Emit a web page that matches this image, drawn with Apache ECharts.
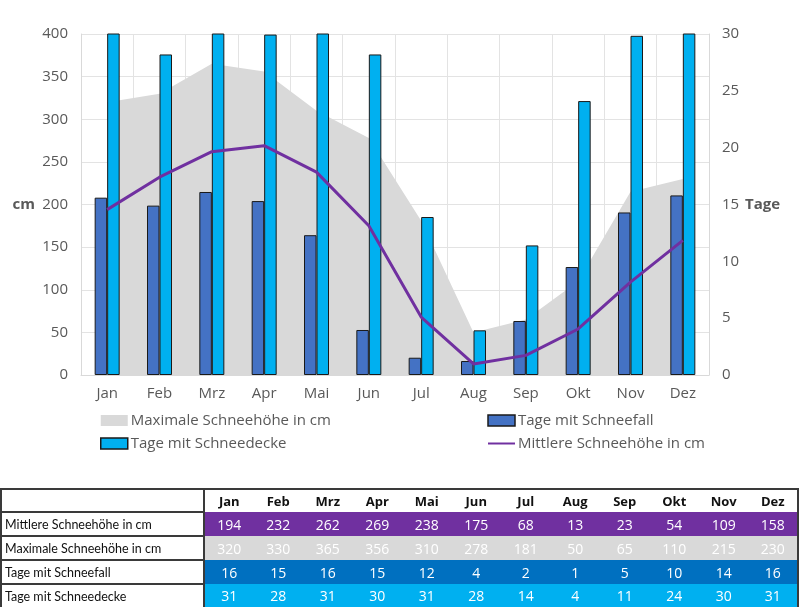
<!DOCTYPE html>
<html><head><meta charset="utf-8">
<script src="https://cdn.jsdelivr.net/npm/echarts@6/dist/echarts.min.js"></script>
<style>
html,body{margin:0;padding:0;background:#fff;}
#chart{position:absolute;left:0;top:0;width:800px;height:607px;}
#tbl{position:absolute;left:0;top:488px;width:799px;border-collapse:collapse;table-layout:fixed;font-family:'Open Sans',sans-serif;border:2px solid #3a3a3a;}
#tbl td{padding:0;height:22px;white-space:nowrap;overflow:hidden;}
#tbl td.lab{border-right:2px solid #3a3a3a;border-bottom:2px solid #3a3a3a;font-family:'Lato',sans-serif;font-size:12.5px;color:#111;padding-left:3px;text-align:left;background:#fff;}
#tbl td.hd{font-weight:bold;font-size:13px;color:#111;text-align:center;background:#fff;}
#tbl td.v{font-size:14px;color:#fff;text-align:center;}
</style>
</head><body>
<div id="chart"></div>
<table id="tbl"></table>
<script>
const months = ['Jan','Feb','Mrz','Apr','Mai','Jun','Jul','Aug','Sep','Okt','Nov','Dez'];
const mittlereSchneehoehe = [194,232,262,269,238,175,68,13,23,54,109,158];
const maximaleSchneehoehe = [320,330,365,356,310,278,181,50,65,110,215,230];
const tageSchneefall = [15.6,14.9,16.1,15.3,12.3,3.96,1.52,1.23,4.75,9.5,14.3,15.8];
const tageSchneedecke = [31,28.2,31,29.95,31,28.2,13.9,3.93,11.4,24.1,29.84,31];
const cmTicks = {min:0,max:400,interval:50};
const tageTicks = {min:0,max:30,interval:5};

const FONT = "'Open Sans', sans-serif";
const TXT = '#595959';
const chart = echarts.init(document.getElementById('chart'), null, {renderer:'canvas'});
const legendCommon = {orient:'vertical',itemGap:8,itemWidth:27,itemHeight:11,padding:0,
  textStyle:{fontSize:15,color:TXT,fontFamily:FONT,padding:[0,0,0,-2]}};
chart.setOption({
  animation:false,
  textStyle:{fontFamily:FONT},
  grid:{left:81,right:91,top:34,bottom:232},
  legend:[
    Object.assign({left:100,top:413,
     data:[{name:'Maximale Schneehöhe in cm',icon:'rect',itemStyle:{color:'#d9d9d9',borderWidth:0}},
           {name:'Tage mit Schneedecke',icon:'rect',itemStyle:{borderWidth:1.5}}]},legendCommon),
    Object.assign({left:487,top:413,
     data:[{name:'Tage mit Schneefall',icon:'rect',itemStyle:{borderWidth:1.5}},
           {name:'Mittlere Schneehöhe in cm',itemStyle:{opacity:0}}]},legendCommon)
  ],
  xAxis:{type:'category',data:months,boundaryGap:true,
    axisLine:{show:true,lineStyle:{color:'#d9d9d9',width:1}},
    axisTick:{show:false},
    axisLabel:{fontSize:15,color:TXT,margin:11,fontFamily:FONT},
    splitLine:{show:true,interval:0,lineStyle:{color:'#e3e3e3',width:1}}},
  yAxis:[
    {type:'value',min:cmTicks.min,max:cmTicks.max,interval:cmTicks.interval,
     name:'cm',nameLocation:'middle',nameRotate:0,nameGap:46,
     nameTextStyle:{fontSize:15,fontWeight:'bold',color:TXT,fontFamily:FONT},
     axisLine:{show:true,lineStyle:{color:'#d9d9d9'}},axisTick:{show:false},
     axisLabel:{fontSize:15,color:TXT,margin:13,fontFamily:FONT},
     splitLine:{show:true,lineStyle:{color:'#e3e3e3',width:1}}},
    {type:'value',min:tageTicks.min,max:tageTicks.max,interval:tageTicks.interval,position:'right',
     name:'Tage',nameLocation:'middle',nameRotate:0,nameGap:36,
     nameTextStyle:{fontSize:15,fontWeight:'bold',color:TXT,fontFamily:FONT},
     axisLine:{show:true,lineStyle:{color:'#d9d9d9'}},axisTick:{show:false},
     axisLabel:{fontSize:15,color:TXT,margin:13,fontFamily:FONT},
     splitLine:{show:false}}
  ],
  series:[
    {name:'Maximale Schneehöhe in cm',type:'line',yAxisIndex:0,data:maximaleSchneehoehe,
     symbol:'none',lineStyle:{width:0,color:'#d9d9d9'},itemStyle:{color:'#d9d9d9'},
     areaStyle:{color:'#d9d9d9',opacity:1},z:1},
    {name:'Tage mit Schneefall',type:'bar',yAxisIndex:1,data:tageSchneefall,barWidth:12.5,barGap:'0%',
     itemStyle:{color:'#4472c4',borderColor:'#1a1a1a',borderWidth:1},z:2},
    {name:'Tage mit Schneedecke',type:'bar',yAxisIndex:1,data:tageSchneedecke,barWidth:12.5,barGap:'0%',
     itemStyle:{color:'#00b0f0',borderColor:'#1a1a1a',borderWidth:1},z:2},
    {name:'Mittlere Schneehöhe in cm',type:'line',yAxisIndex:0,data:mittlereSchneehoehe,
     symbol:'none',lineStyle:{width:3,color:'#7030a0'},itemStyle:{color:'#7030a0'},z:3}
  ]
});

const rows = [
  {label:'Mittlere Schneehöhe in cm',vals:mittlereSchneehoehe,bg:'#7030a0'},
  {label:'Maximale Schneehöhe in cm',vals:maximaleSchneehoehe,bg:'#d9d9d9'},
  {label:'Tage mit Schneefall',vals:tageSchneefall,bg:'#0070c0'},
  {label:'Tage mit Schneedecke',vals:tageSchneedecke,bg:'#00b0f0'}
];
const tbl = document.getElementById('tbl');
let html = '<colgroup><col style="width:203px">' + months.map(()=>'<col>').join('') + '</colgroup>';
html += '<tr><td class="lab" style="height:21px"></td>' + months.map(m=>'<td class="hd">'+m+'</td>').join('') + '</tr>';
rows.forEach((r,i)=>{
  html += '<tr><td class="lab"'+(i===rows.length-1?' style="border-bottom:none"':'')+'>'+r.label+'</td>' +
    r.vals.map(v=>'<td class="v" style="background:'+r.bg+'">'+Math.round(v)+'</td>').join('') + '</tr>';
});
tbl.innerHTML = html;
</script>
</body></html>
